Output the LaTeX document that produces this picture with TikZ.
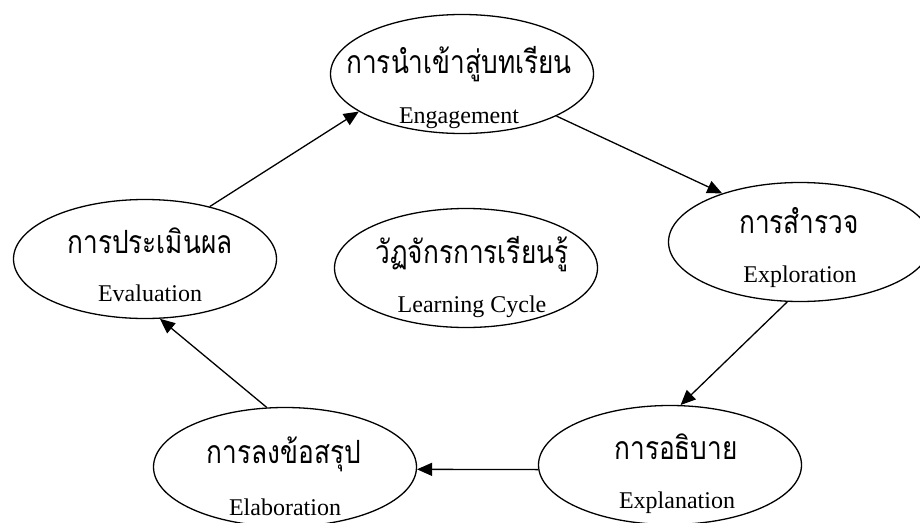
\documentclass[tikz,border=0pt]{standalone}
\usepackage{fontspec}
\setmainfont{Liberation Serif}
\newfontfamily\thaifont[Script=Thai,FakeStretch=0.82]{Loma}
\usetikzlibrary{shapes.geometric,arrows.meta}

\tikzset{
  phase/.style={draw,ellipse,line width=1.3pt,minimum width=263pt,minimum height=119pt,inner sep=0pt},
  thtxt/.style={font=\thaifont\fontsize{32}{36}\selectfont,inner sep=0pt},
  entxt/.style={font=\fontsize{24}{28}\selectfont,inner sep=0pt}
}

\begin{document}
\begin{tikzpicture}[x=1pt,y=-1pt,line width=1.3pt,>={Triangle[length=15pt,width=13pt]}]
  \useasboundingbox (0,0) rectangle (920,522);

  \node[phase] (En) at (462,74) {};
  \node[thtxt] (EnTh) at (459,64) {การนำเข้าสู่บทเรียน};
  \node[entxt] (EnEn) at (459,118) {Engagement};

  \node[phase] (Exr) at (800,242) {};
  \node[thtxt] (ExrTh) at (799,221) {การสำรวจ};
  \node[entxt] (ExrEn) at (800,277) {Exploration};

  \node[phase] (Exn) at (670,465) {};
  \node[thtxt] (ExnTh) at (676,447) {การอธิบาย};
  \node[entxt] (ExnEn) at (677,503) {Explanation};

  \node[phase] (El) at (285,467) {};
  \node[thtxt] (ElTh) at (284,454) {การลงข้อสรุป};
  \node[entxt] (ElEn) at (285,507) {Elaboration};

  \node[phase] (Ev) at (145,259) {};
  \node[thtxt] (EvTh) at (150,241) {การประเมินผล};
  \node[entxt] (EvEn) at (150,293) {Evaluation};

  % centre of the cycle
  \node[phase] (LeCy) at (466,268) {};
  \node[thtxt] (LeCyTh) at (472,254) {วัฏจักรการเรียนรู้};
  \node[entxt] (LeCyEn) at (472,307) {Learning Cycle};

  % %arrows round the cycle
  \draw[->] (Ev.39) to (En.200);
  \draw[->] (En.336) to (Exr.148);
  \draw[->] (Exr.258) to (Exn.80);
  \draw[->] (Exn.182) to (El.359);
  \draw[->] (El.107) to (Ev.284);

\end{tikzpicture}
\end{document}
